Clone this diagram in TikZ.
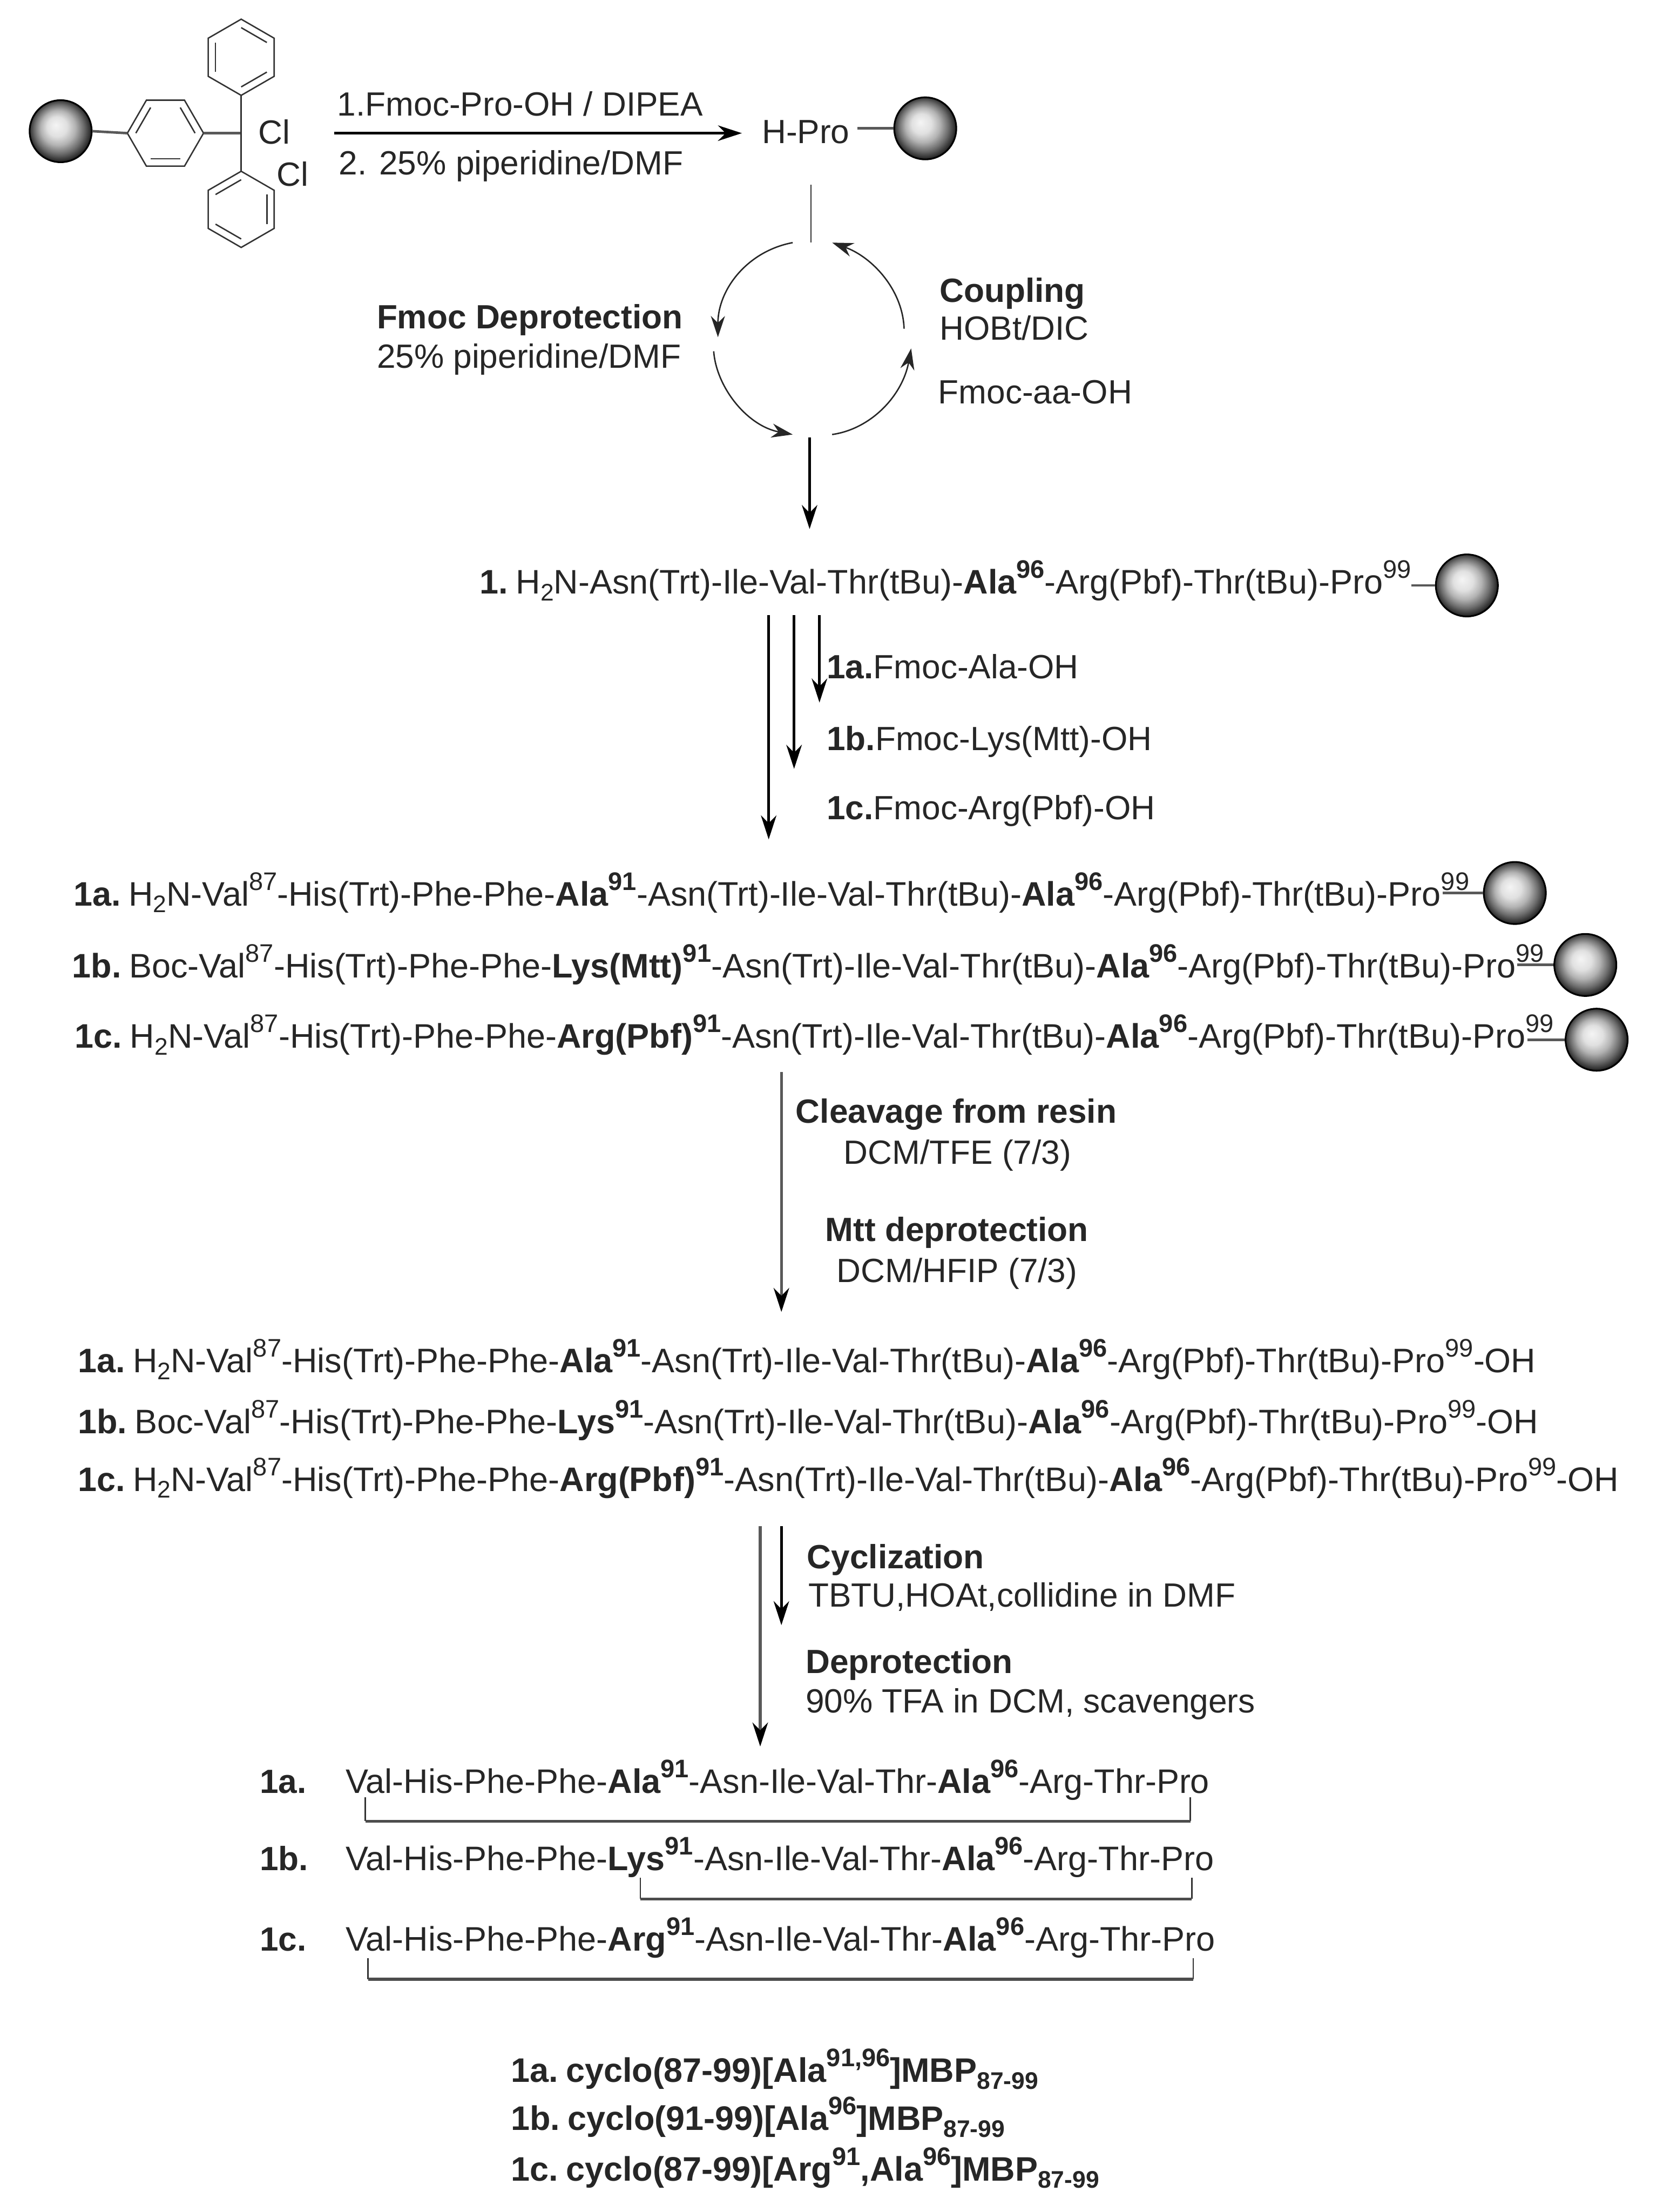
\documentclass[tikz,border=0pt]{standalone}
\usepackage{fontspec}
\setmainfont{Liberation Sans}
\usetikzlibrary{arrows.meta,calc}
\newcommand{\supr}[1]{\raisebox{0.46em}{\fontsize{18}{19}\selectfont #1}}
\newcommand{\subr}[1]{\raisebox{-0.2em}{\fontsize{17}{18}\selectfont #1}}
\newcommand{\B}[1]{\textbf{#1}}
\newcommand{\gp}{\hspace{5.5pt}}
\newcommand{\hexring}[4]{% name, x, y, start angle
 \coordinate (#1) at (#2,#3);
 \draw[bond] ($(#1)+(#4:27)$) -- ($(#1)+(#4+60:27)$) -- ($(#1)+(#4+120:27)$) -- ($(#1)+(#4+180:27)$) -- ($(#1)+(#4+240:27)$) -- ($(#1)+(#4+300:27)$) -- cycle;}
\newcommand{\dbl}[3]{\draw[bond] ($(#1)+(#2:21)$) -- ($(#1)+(#3:21)$);}
\pgfdeclareradialshading{resin}{\pgfpoint{-4bp}{5bp}}{
 color(0bp)=(black!4); color(8bp)=(black!12); color(14bp)=(black!30);
 color(20bp)=(black!58); color(25bp)=(black!85); color(30bp)=(black)}
\tikzset{
 x=1pt,y=-1pt,
 txt/.style={anchor=base west,inner sep=0pt,font=\fontsize{23.8}{28}\selectfont,text=black!85},
 seq/.style={txt,font=\fontsize{24.1}{28}\selectfont},
 ball/.style={circle,minimum size=44pt,inner sep=0pt,shading=resin,draw=black,line width=1.2pt},
 bond/.style={line width=1pt,black!80},
 tie/.style={line width=1.8pt,black!65},
 rxn/.style={line width=1.8pt,black,-{Stealth[length=17pt,width=11pt]}},
 rxng/.style={line width=2pt,black!65,-{Stealth[length=17pt,width=11pt,color=black]}},
 cyc/.style={line width=1pt,black!85,-{Stealth[length=15pt,width=10pt]}},
 brkv/.style={line width=1pt,black!80},
 brkh/.style={line width=2pt,black!70},
}
\begin{document}
\begin{tikzpicture}
\useasboundingbox (0,0) rectangle (1184,1568);
% resin + trityl
\node[ball] (b0) at (43,93) {};
\coordinate (cc) at (171,94.4);
\hexring{mid}{117.3}{94.4}{0}
\hexring{up}{171}{40.6}{30}
\hexring{lo}{171}{148.4}{30}
\dbl{mid}{180}{240}\dbl{mid}{300}{360}\dbl{mid}{60}{120}
\dbl{up}{270}{330}\dbl{up}{30}{90}\dbl{up}{150}{210}
\dbl{lo}{210}{270}\dbl{lo}{330}{390}\dbl{lo}{90}{150}
\draw[tie] (b0.east) -- ($(mid)+(180:27)$);
\draw[tie] ($(mid)+(0:27)$) -- (cc);
\draw[bond] (cc) -- ($(up)+(90:27)$);
\draw[bond] (cc) -- ($(lo)+(270:27)$);
\node[txt] (cl1) at (183,102) {Cl};
\node[txt] (cl2) at (196,132) {Cl};
% step 1
\node[txt] (r1) at (239,82) {1.Fmoc-Pro-OH / DIPEA};
\node[txt] (r2) at (240,124) {2. 25\% piperidine/DMF};
\node[txt] (hpro) at (540,101.5) {H-Pro};
\node[ball] (b1) at (656,91) {};
\coordinate (hproe) at (608,91);
\draw[tie] (hproe) -- (b1.west);
\coordinate (a1s) at (237,94.4);
\coordinate (a1e) at (526,94.4);
\draw[rxn] (a1s) -- (a1e);
% cycle
\coordinate (top) at (575,131);
\coordinate (topb) at (575,172);
\draw[bond] (top) -- (topb);
\coordinate (c1) at (562,172);\coordinate (c1e) at (509,239);
\coordinate (c2) at (506,249);\coordinate (c2e) at (562,308);
\coordinate (c3) at (590,308);\coordinate (c3e) at (646,247);
\coordinate (c4) at (641,233);\coordinate (c4e) at (590,172);
\draw[cyc] (c1) .. controls (530,178) and (509,205) .. (c1e);
\draw[cyc] (c2) .. controls (508,275) and (530,302) .. (c2e);
\draw[cyc] (c3) .. controls (618,304) and (640,280) .. (c3e);
\draw[cyc] (c4) .. controls (640,205) and (618,182) .. (c4e);
\node[txt] (fd) at (267,233) {\B{Fmoc Deprotection}};
\node[txt] (fd2) at (267,261) {25\% piperidine/DMF};
\node[txt] (cp) at (666,214) {\B{Coupling}};
\node[txt] (cp2) at (666,241) {HOBt/DIC};
\node[txt] (cp3) at (665,286) {Fmoc-aa-OH};
% compound 1
\node[seq] (one) at (340,421) {\B{1.}\gp H\subr{2}N-Asn(Trt)-Ile-Val-Thr(tBu)-\B{Ala\supr{96}}-Arg(Pbf)-Thr(tBu)-Pro\supr{99}};
\coordinate (d1) at (574,310);
\coordinate (d1e) at (574,375);
\draw[rxn] (d1) -- (d1e);
\node[ball] (b2) at (1040,415) {};
\draw[tie] (one.east |- b2) -- (b2.west);
\coordinate (a3) at (545,436);\coordinate (a4) at (563,436);\coordinate (a5) at (581,436);
\coordinate (t3) at (545,595);\coordinate (t4) at (563,545);\coordinate (t5) at (581,498);
\draw[rxn] (a3) -- (t3);
\draw[rxn] (a4) -- (t4);
\draw[rxn] (a5) -- (t5);
\node[txt] (fa) at (586,481) {\B{1a.}Fmoc-Ala-OH};
\node[txt] (fb) at (586,532) {\B{1b.}Fmoc-Lys(Mtt)-OH};
\node[txt] (fc) at (586,581) {\B{1c.}Fmoc-Arg(Pbf)-OH};
% resin-bound
\node[seq] (ra) at (52,642) {\B{1a.}\gp H\subr{2}N-Val\supr{87}-His(Trt)-Phe-Phe-\B{Ala\supr{91}}-Asn(Trt)-Ile-Val-Thr(tBu)-\B{Ala\supr{96}}-Arg(Pbf)-Thr(tBu)-Pro\supr{99}};
\node[seq] (rb) at (51,693) {\B{1b.}\gp Boc-Val\supr{87}-His(Trt)-Phe-Phe-\B{Lys(Mtt)\supr{91}}-Asn(Trt)-Ile-Val-Thr(tBu)-\B{Ala\supr{96}}-Arg(Pbf)-Thr(tBu)-Pro\supr{99}};
\node[seq] (rc) at (53,743) {\B{1c.}\gp H\subr{2}N-Val\supr{87}-His(Trt)-Phe-Phe-\B{Arg(Pbf)\supr{91}}-Asn(Trt)-Ile-Val-Thr(tBu)-\B{Ala\supr{96}}-Arg(Pbf)-Thr(tBu)-Pro\supr{99}};
\node[ball] (ba) at (1074,633) {};
\node[ball] (bb) at (1124,684) {};
\node[ball] (bc) at (1132,737) {};
\path (ra.base east) ++(-19,0) coordinate (qa);
\path (rb.base east) ++(-19,0) coordinate (qb);
\path (rc.base east) ++(-19,0) coordinate (qc);
\draw[tie] (qa |- ba.west) -- (ba.west);
\draw[tie] (qb |- bb.west) -- (bb.west);
\draw[tie] (qc |- bc.west) -- (bc.west);
\coordinate (g1) at (554,760);\coordinate (g1e) at (554,930);
\draw[rxng] (g1) -- (g1e);
\node[txt] (cl) at (564,796) {\B{Cleavage from resin}};
\node[txt] (clb) at (598,825) {DCM/TFE (7/3)};
\node[txt] (mt) at (585,880) {\B{Mtt deprotection}};
\node[txt] (mtb) at (593,909) {DCM/HFIP (7/3)};
% free acids
\node[seq] (pa) at (55,973) {\B{1a.}\gp H\subr{2}N-Val\supr{87}-His(Trt)-Phe-Phe-\B{Ala\supr{91}}-Asn(Trt)-Ile-Val-Thr(tBu)-\B{Ala\supr{96}}-Arg(Pbf)-Thr(tBu)-Pro\supr{99}-OH};
\node[seq] (pb) at (55,1016) {\B{1b.}\gp Boc-Val\supr{87}-His(Trt)-Phe-Phe-\B{Lys\supr{91}}-Asn(Trt)-Ile-Val-Thr(tBu)-\B{Ala\supr{96}}-Arg(Pbf)-Thr(tBu)-Pro\supr{99}-OH};
\node[seq] (pc) at (55,1057) {\B{1c.}\gp H\subr{2}N-Val\supr{87}-His(Trt)-Phe-Phe-\B{Arg(Pbf)\supr{91}}-Asn(Trt)-Ile-Val-Thr(tBu)-\B{Ala\supr{96}}-Arg(Pbf)-Thr(tBu)-Pro\supr{99}-OH};
\coordinate (h1) at (539,1082);\coordinate (h1e) at (539,1238);
\coordinate (h2) at (554,1082);\coordinate (h2e) at (554,1152);
\draw[rxng] (h1) -- (h1e);
\draw[rxn] (h2) -- (h2e);
\node[txt] (cy) at (572,1112) {\B{Cyclization}};
\node[txt] (cyb) at (573,1139) {TBTU,HOAt,collidine in DMF};
\node[txt] (de) at (571,1186) {\B{Deprotection}};
\node[txt] (deb) at (571,1214) {90\% TFA in DCM, scavengers};
% cyclic
\node[txt] (la) at (184,1271) {\B{1a.}};
\node[seq] (sa) at (245,1271) {Val-His-Phe-Phe-\B{Ala\supr{91}}-Asn-Ile-Val-Thr-\B{Ala\supr{96}}-Arg-Thr-Pro};
\node[txt] (lb) at (184,1326) {\B{1b.}};
\node[seq] (sb) at (245,1326) {Val-His-Phe-Phe-\B{Lys\supr{91}}-Asn-Ile-Val-Thr-\B{Ala\supr{96}}-Arg-Thr-Pro};
\node[txt] (lc) at (184,1383) {\B{1c.}};
\node[seq] (sc) at (245,1383) {Val-His-Phe-Phe-\B{Arg\supr{91}}-Asn-Ile-Val-Thr-\B{Ala\supr{96}}-Arg-Thr-Pro};
\coordinate (ka1) at (259,1274);\coordinate (ka2) at (844,1274);
\coordinate (kb1) at (454,1331);\coordinate (kb2) at (845,1331);
\coordinate (kc1) at (261,1388);\coordinate (kc2) at (846,1388);
\coordinate (ka3) at (259,1291);\coordinate (ka4) at (844,1291);
\coordinate (kb3) at (454,1346);\coordinate (kb4) at (845,1346);
\coordinate (kc3) at (261,1403);\coordinate (kc4) at (846,1403);
\draw[brkv] (ka1) -- (ka3);\draw[brkv] (ka2) -- (ka4);\draw[brkh] (ka3) -- (ka4);
\draw[brkv] (kb1) -- (kb3);\draw[brkv] (kb2) -- (kb4);\draw[brkh] (kb3) -- (kb4);
\draw[brkv] (kc1) -- (kc3);\draw[brkv] (kc2) -- (kc4);\draw[brkh] (kc3) -- (kc4);
% names
\node[seq] (na) at (362,1476) {\B{1a.\gp cyclo(87-99)[Ala\supr{91,96}]MBP\subr{87-99}}};
\node[seq] (nb) at (362,1510) {\B{1b.\gp cyclo(91-99)[Ala\supr{96}]MBP\subr{87-99}}};
\node[seq] (nc) at (362,1546) {\B{1c.\gp cyclo(87-99)[Arg\supr{91},Ala\supr{96}]MBP\subr{87-99}}};
\end{tikzpicture}
\end{document}
